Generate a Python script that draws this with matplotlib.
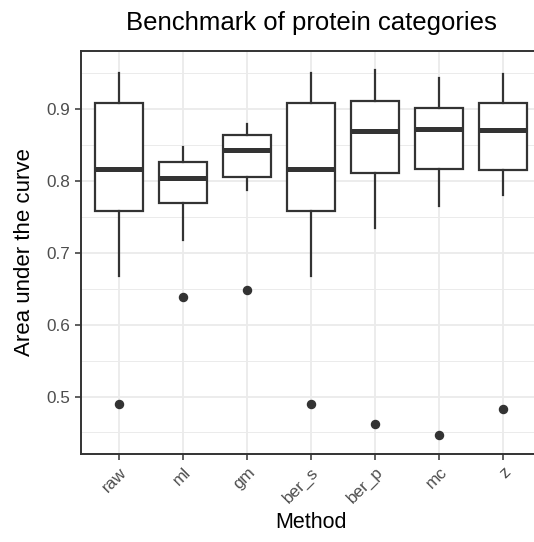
import matplotlib
matplotlib.use("Agg")
import matplotlib.pyplot as plt
import numpy as np

# values (AUC per method)
methods = ["raw", "ml", "gm", "ber_s", "ber_p", "mc", "z"]
whisk_lo = [0.668, 0.718, 0.787, 0.668, 0.734, 0.765, 0.781]
q1 = [0.758, 0.770, 0.805, 0.758, 0.811, 0.817, 0.815]
median = [0.817, 0.804, 0.843, 0.817, 0.869, 0.873, 0.871]
q3 = [0.909, 0.827, 0.864, 0.909, 0.912, 0.902, 0.909]
whisk_hi = [0.951, 0.847, 0.880, 0.951, 0.955, 0.944, 0.949]
outliers = [[0.489], [0.638], [0.648], [0.489], [0.462], [0.446], [0.483]]

plt.rcParams['font.family'] = ['Liberation Sans', 'DejaVu Sans']

W, H = 534, 542
fig = plt.figure(figsize=(W / 100, H / 100), dpi=100)
# panel is cut off on the right in the reference, so the axes run past the figure edge
left, right, top, bottom = 80.7, 541.7, 51, 454
ax = fig.add_axes([left / W, 1 - bottom / H, (right - left) / W, (bottom - top) / H])

stats = []
for i, m in enumerate(methods):
    stats.append(dict(label=m, whislo=whisk_lo[i], q1=q1[i], med=median[i],
                      q3=q3[i], whishi=whisk_hi[i], fliers=outliers[i]))

dark = "#333333"
pos = np.arange(1, len(methods) + 1)
ax.bxp(stats, positions=pos, widths=0.75, showcaps=False, patch_artist=True,
       boxprops=dict(facecolor="white", edgecolor=dark, linewidth=1.6),
       medianprops=dict(color=dark, linewidth=3.6, solid_capstyle="butt"),
       whiskerprops=dict(color=dark, linewidth=1.6),
       flierprops=dict(marker="o", markerfacecolor=dark, markeredgecolor=dark,
                       markersize=5.8, linestyle="none"),
       zorder=3)

ax.set_xlim(0.4, 7.6)
ax.set_ylim(0.420, 0.981)
ax.set_xticks(pos)
ax.set_xticklabels(methods, rotation=45, ha="right", va="top", rotation_mode="anchor")
ax.set_yticks([0.5, 0.6, 0.7, 0.8, 0.9])
ax.set_yticklabels(["0.5", "0.6", "0.7", "0.8", "0.9"])
ax.set_yticks(np.arange(0.45, 0.99, 0.1), minor=True)

ax.grid(True, which="major", color="#EBEBEB", linewidth=1.3, zorder=0)
ax.grid(True, which="minor", axis="y", color="#EBEBEB", linewidth=0.7, zorder=0)
ax.set_axisbelow(True)
for s in ax.spines.values():
    s.set_color(dark)
    s.set_linewidth(1.4)
ax.spines["right"].set_visible(False)  # lies outside the crop anyway

ax.tick_params(which="major", length=4.5, width=1.1, color=dark, labelcolor="#4D4D4D",
               labelsize=12.3, pad=3)
ax.tick_params(which="minor", length=0)

ax.set_xlabel("Method", fontsize=15.5, labelpad=4)
ax.set_ylabel("Area under the curve", fontsize=16, labelpad=8)
fig.text((left + right) / 2 / W, 1 - 30 / H, "Benchmark of protein categories",
         ha="center", va="baseline", fontsize=18.5)

fig.savefig("out.png", dpi=100)
